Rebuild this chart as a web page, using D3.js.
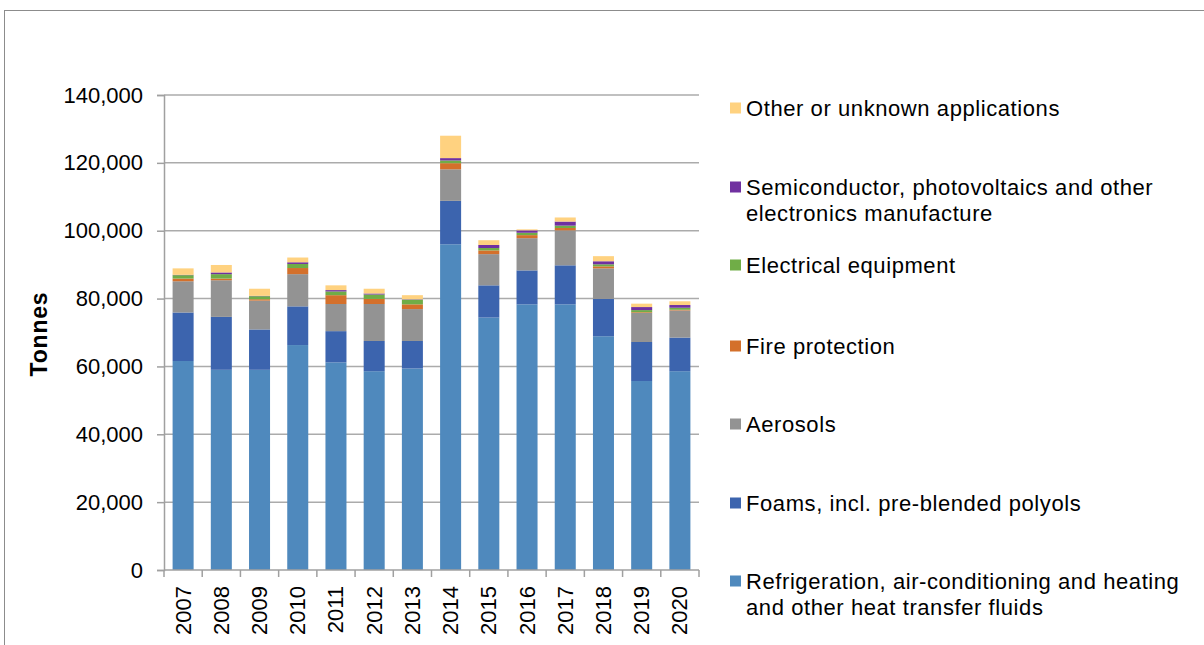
<!DOCTYPE html>
<html>
<head>
<meta charset="utf-8">
<script src="https://cdn.jsdelivr.net/npm/d3@7"></script>
<style>
  html, body { margin: 0; padding: 0; background: #fff; }
  svg { display: block; font-family: "Liberation Sans", Arial, sans-serif; }
</style>
</head>
<body>
<svg id="chart" width="1204" height="645"></svg>
<script>
const years = ["2007","2008","2009","2010","2011","2012","2013","2014","2015","2016","2017","2018","2019","2020"];

// Values in tonnes
const refrigeration = [61600, 59000, 59000, 66300, 61200, 58600, 59400, 96000, 74400, 78300, 78300, 68900, 55700, 58600];
const foams         = [14300, 15600, 11900, 11400,  9200,  8900,  8100, 12800,  9500, 10000, 11500, 11000, 11500,  9900];
const aerosols      = [ 9200, 10800,  8500,  9500,  8000, 10900,  9400,  9300,  9200,  9500, 10300,  9000,  8600,  8000];
const fireProt      = [  800,   500,   400,  1800,  2600,  1500,  1400,  1800,  1100,   900,   700,   600,   200,   200];
const electrical    = [ 1000,  1300,   900,  1200,  1100,  1300,  1400,   800,   700,   700,   700,   600,   600,   600];
const semiconductor = [  100,   500,   100,   500,   400,   300,   100,   700,   900,   700,  1200,   900,   900,   800];
const other         = [ 1900,  2200,  2100,  1400,  1400,  1400,  1200,  6600,  1400,   300,  1200,  1500,  1000,  1100];

const seriesNames = [
  "Refrigeration, air-conditioning and heating and other heat transfer fluids",
  "Foams, incl. pre-blended polyols",
  "Aerosols",
  "Fire protection",
  "Electrical equipment",
  "Semiconductor, photovoltaics and other electronics manufacture",
  "Other or unknown applications"
];
const seriesValues = [refrigeration, foams, aerosols, fireProt, electrical, semiconductor, other];
const seriesColors = ["#4F89BD", "#3C64AE", "#939393", "#D4702B", "#70AD47", "#7030A0", "#FFD280"];
const yTicks = [0, 20000, 40000, 60000, 80000, 100000, 120000, 140000];

// Legend layout (top to bottom)
const legendOrder = [6, 5, 4, 3, 2, 1, 0];
const legendLines = [
  ["Other or unknown applications"],
  ["Semiconductor, photovoltaics and other", "electronics manufacture"],
  ["Electrical equipment"],
  ["Fire protection"],
  ["Aerosols"],
  ["Foams, incl. pre-blended polyols"],
  ["Refrigeration, air-conditioning and heating", "and other heat transfer fluids"]
];
const legendY = [108, 187, 265, 346, 424, 503, 581];

const svg = d3.select("#chart");

// outer chart border
svg.append("rect")
  .attr("x", 4.5).attr("y", 10.5)
  .attr("width", 1230).attr("height", 700)
  .attr("fill", "none").attr("stroke", "#8C8C8C").attr("stroke-width", 1);

const plot = { left: 164, right: 699, top: 95, bottom: 570 };

const x = d3.scaleBand().domain(years)
  .range([plot.left, plot.right])
  .paddingInner(0.45).paddingOuter(0.225);
const y = d3.scaleLinear().domain([0, 140000]).range([plot.bottom, plot.top]);

// gridlines
svg.append("g").selectAll("line").data(yTicks.filter(d => d > 0)).join("line")
  .attr("x1", plot.left).attr("x2", plot.right)
  .attr("y1", d => y(d)).attr("y2", d => y(d))
  .attr("stroke", "#ABABAB").attr("stroke-width", 1.5);

// stacked data
const rows = years.map((yr, i) => {
  const o = { year: yr };
  seriesValues.forEach((arr, k) => { o["s" + k] = arr[i]; });
  return o;
});
const stack = d3.stack().keys(seriesValues.map((_, k) => "s" + k));
const stacked = stack(rows);

svg.append("g").selectAll("g").data(stacked).join("g")
  .attr("fill", (d, k) => seriesColors[k])
  .selectAll("rect").data(d => d).join("rect")
  .attr("x", d => x(d.data.year))
  .attr("width", x.bandwidth())
  .attr("y", d => y(d[1]))
  .attr("height", d => y(d[0]) - y(d[1]));

// Y axis
const yAxis = svg.append("g")
  .attr("transform", `translate(${plot.left},0)`)
  .call(d3.axisLeft(y).tickValues(yTicks).tickSize(7).tickPadding(14)
    .tickFormat(d3.format(",")));
yAxis.select(".domain").attr("stroke", "#A0A0A0").attr("stroke-width", 1.5);
yAxis.selectAll(".tick line").attr("stroke", "#A0A0A0").attr("stroke-width", 1.5);
yAxis.selectAll(".tick text").attr("font-size", 22).attr("fill", "#000")
  .attr("font-family", "Liberation Sans, Arial, sans-serif");

// X axis line and boundary ticks
const xAxis = svg.append("g")
  .attr("transform", `translate(0,${plot.bottom})`)
  .call(d3.axisBottom(x).tickSize(0).tickFormat(""));
xAxis.select(".domain").attr("stroke", "#A0A0A0").attr("stroke-width", 1.5)
  .attr("d", `M${plot.left},0H${plot.right}`);
const boundaries = years.map(d => x(d) - x.step() * x.paddingInner() / 2).concat([plot.right]);
svg.append("g").selectAll("line").data(boundaries).join("line")
  .attr("x1", d => d).attr("x2", d => d)
  .attr("y1", plot.bottom).attr("y2", plot.bottom + 7)
  .attr("stroke", "#A0A0A0").attr("stroke-width", 1.5);

// X labels (rotated)
svg.append("g").selectAll("text").data(years).join("text")
  .attr("transform", d => `translate(${x(d) + x.bandwidth() / 2},586) rotate(-90)`)
  .attr("text-anchor", "end")
  .attr("dominant-baseline", "central")
  .attr("font-size", 22).attr("fill", "#000")
  .text(d => d);

// Y title
svg.append("text")
  .attr("transform", "translate(39,334) rotate(-90)")
  .attr("text-anchor", "middle")
  .attr("dominant-baseline", "central")
  .attr("font-size", 23).attr("font-weight", "bold").attr("letter-spacing", 0.8).attr("fill", "#000")
  .text("Tonnes");

// Legend
const leg = svg.append("g");
legendOrder.forEach((k, i) => {
  const cy = legendY[i];
  leg.append("rect")
    .attr("x", 730).attr("y", cy - 5.5)
    .attr("width", 11).attr("height", 11)
    .attr("fill", seriesColors[k]);
  const t = leg.append("text")
    .attr("x", 746).attr("y", cy)
    .attr("dominant-baseline", "central")
    .attr("font-size", 22).attr("letter-spacing", 0.58).attr("fill", "#000");
  legendLines[i].forEach((line, j) => {
    t.append("tspan").attr("x", 746).attr("dy", j === 0 ? 0 : 26).text(line);
  });
});
</script>
</body>
</html>
